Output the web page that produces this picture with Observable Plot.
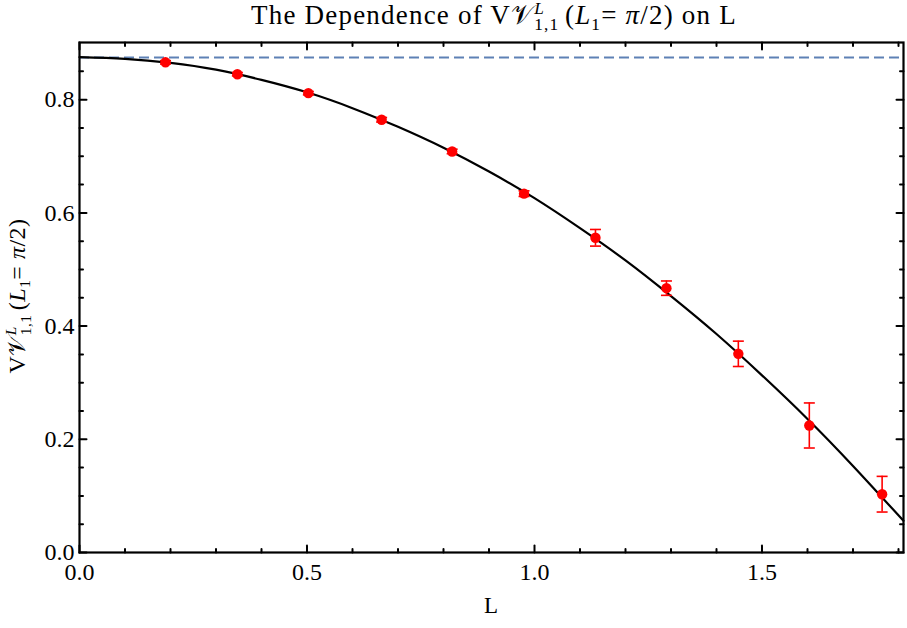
<!DOCTYPE html>
<html>
<head>
<meta charset="utf-8">
<script src="https://cdn.jsdelivr.net/npm/d3@7"></script>
<script src="https://cdn.jsdelivr.net/npm/@observablehq/plot@0.6"></script>
<style>
  html, body { margin: 0; padding: 0; background: #fff; }
</style>
</head>
<body>
<script>
// ---- data ----
const Lvals = [0.189, 0.347, 0.503, 0.664, 0.819, 0.977, 1.134, 1.290, 1.448, 1.604, 1.764];
const Vvals = [0.866, 0.845, 0.8115, 0.7645, 0.7085, 0.634, 0.556, 0.467, 0.351, 0.2244, 0.103];
const Verrs = [0.003, 0.003, 0.003, 0.004, 0.004, 0.005, 0.0147, 0.0127, 0.0224, 0.0398, 0.0315];

const curveL = [0, 0.1, 0.2, 0.3, 0.4, 0.5, 0.6, 0.7, 0.8, 0.9, 1.0, 1.1, 1.2, 1.3, 1.4, 1.5, 1.6, 1.7, 1.811];
const curveV = [0.875, 0.872, 0.865, 0.853, 0.835, 0.813, 0.785, 0.752, 0.715, 0.673, 0.626, 0.573, 0.516, 0.453, 0.386, 0.313, 0.236, 0.153, 0.056];

const asymptote = [0.8746];

const xMajor = [0, 0.5, 1.0, 1.5];
const xMinor = [0.1, 0.2, 0.3, 0.4, 0.6, 0.7, 0.8, 0.9, 1.1, 1.2, 1.3, 1.4, 1.6, 1.7, 1.8];
const yMajor = [0, 0.2, 0.4, 0.6, 0.8];
const yMinor = [0.05, 0.1, 0.15, 0.25, 0.3, 0.35, 0.45, 0.5, 0.55, 0.65, 0.7, 0.75, 0.85];

const xDomain = [0, 1.811];
const yDomain = [0, 0.901];

// ---- build tables ----
const points = Lvals.map((L, i) => ({L, V: Vvals[i], e: Verrs[i]}));
const curve = curveL.map((L, i) => ({L, V: curveV[i]}));

const serif = "'Liberation Serif', 'Times New Roman', serif";
const tickShape = {draw(context, l) { context.moveTo(0, 0); context.lineTo(0, -l); }};
const capSymbol = {draw(context, size) { const w = Math.sqrt(size / Math.PI); context.moveTo(-w, 0); context.lineTo(w, 0); }};

function ticksX(values, len, where) {
  return Plot.vector(values, {x: d => d, frameAnchor: where, rotate: where === "bottom" ? 0 : 180,
    length: len, anchor: "start", shape: tickShape, stroke: "black", strokeWidth: 2});
}
function ticksY(values, len, where) {
  return Plot.vector(values, {y: d => d, frameAnchor: where, rotate: where === "left" ? 90 : -90,
    length: len, anchor: "start", shape: tickShape, stroke: "black", strokeWidth: 2});
}

const svg = Plot.plot({
  width: 907,
  height: 628,
  marginLeft: 79,
  marginRight: 4,
  marginTop: 42,
  marginBottom: 76,
  style: {background: "#fff", fontFamily: serif},
  x: {domain: xDomain},
  y: {domain: yDomain},
  marks: [
    Plot.ruleY(asymptote, {stroke: "#5E81B5", strokeWidth: 2, strokeDasharray: "10,5"}),
    Plot.line(curve, {x: "L", y: "V", curve: "natural", stroke: "black", strokeWidth: 2.2}),
    Plot.ruleX(points, {x: "L", y1: d => d.V - d.e, y2: d => d.V + d.e, stroke: "#FF0000", strokeWidth: 1.6}),
    Plot.dot(points, {x: "L", y: d => d.V - d.e, symbol: capSymbol, r: 5.5, stroke: "#FF0000", strokeWidth: 1.6, fill: "none"}),
    Plot.dot(points, {x: "L", y: d => d.V + d.e, symbol: capSymbol, r: 5.5, stroke: "#FF0000", strokeWidth: 1.6, fill: "none"}),
    Plot.dot(points, {x: "L", y: "V", r: 5.2, fill: "#FF0000", stroke: "none"}),
    ticksX(xMajor, 7, "bottom"), ticksX(xMinor, 3.5, "bottom"),
    ticksX(xMajor, 7, "top"), ticksX(xMinor, 3.5, "top"),
    ticksY(yMajor, 7, "left"), ticksY(yMinor, 3.5, "left"),
    ticksY(yMajor, 7, "right"), ticksY(yMinor, 3.5, "right"),
    Plot.frame({stroke: "black", strokeWidth: 2.2}),
    Plot.axisX(xMajor, {anchor: "bottom", tickSize: 0, tickPadding: 10, tickFormat: d3.format(".1f"), fontSize: 24, fontFamily: serif, label: null}),
    Plot.axisY(yMajor, {anchor: "left", tickSize: 0, tickPadding: 5, tickFormat: d3.format(".1f"), fontSize: 24, fontFamily: serif, label: null})
  ]
});
document.body.append(svg);

// ---- rich text (sub/superscripts) as one text element with tspans ----
function richText(runs, {x, y, rotate = 0, size, spacing = 0}) {
  const small = size * 0.64;
  const t = d3.select(svg).append("text")
    .attr("transform", `translate(${x},${y}) rotate(${rotate})`)
    .attr("text-anchor", "middle")
    .attr("font-family", serif)
    .attr("font-size", size)
    .attr("letter-spacing", spacing)
    .attr("fill", "black")
    .style("white-space", "pre");
  let level = 0;
  for (const r of runs) {
    const target = r.level || 0;
    const s = r.small ? small : size;
    const ts = t.append("tspan")
      .attr("font-size", s)
      .attr("font-style", r.italic ? "italic" : "normal")
      .attr("dy", (target - level) * size)
      .text(r.t);
    if (r.back) ts.attr("dx", -r.back * small - spacing);
    level = target;
  }
}

function labelRuns(prefix, suffix) {
  return [
    {t: prefix + "V"},
    {t: "\u{1D4B1}"},
    {t: "L", italic: true, small: true, level: -0.36},
    {t: "1,1 ", small: true, level: 0.24, back: 0.556},
    {t: "(", level: 0},
    {t: "L", italic: true},
    {t: "1", small: true, level: 0.22},
    {t: "= ", level: 0},
    {t: "\u03C0", italic: true},
    {t: "/2)" + suffix}
  ];
}

richText(labelRuns("The Dependence of ", " on L"), {x: 494, y: 24, size: 27, spacing: 1.2});
richText(labelRuns("", ""), {x: 25, y: 296, rotate: -90, size: 24, spacing: 0.5});
richText([{t: "L"}], {x: 491, y: 613, size: 23});
</script>
</body>
</html>
